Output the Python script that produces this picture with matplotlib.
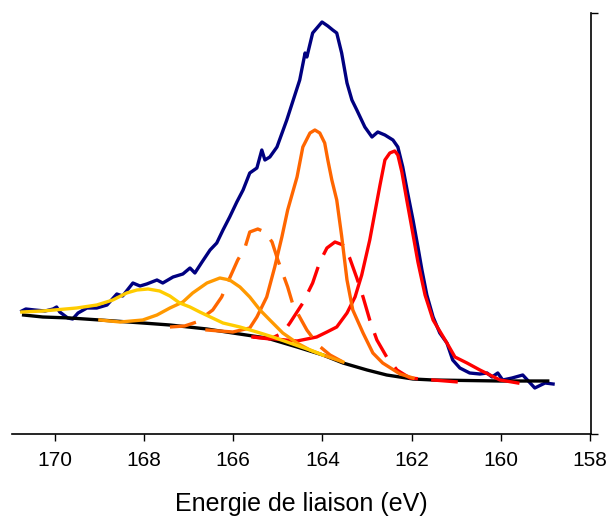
import matplotlib
matplotlib.use("Agg")
import matplotlib.pyplot as plt

plt.rcParams['font.family'] = ['Liberation Sans', 'DejaVu Sans']

# measured spectrum (binding energy in eV, intensity in a.u.)
raw_be = [170.74, 170.65, 170.45, 170.22, 170.04, 169.96, 169.89, 169.71, 169.60, 169.48,
          169.28, 169.06, 168.83, 168.61, 168.48, 168.25, 168.09, 167.94, 167.71, 167.58,
          167.35, 167.13, 166.97, 166.86, 166.70, 166.52, 166.37, 166.23, 166.08, 165.92,
          165.78, 165.63, 165.47, 165.36, 165.29, 165.18, 165.02, 164.80, 164.51, 164.39,
          164.35, 164.22, 164.01, 163.88, 163.77, 163.68, 163.57, 163.45, 163.34, 163.23,
          163.05, 162.89, 162.76, 162.60, 162.42, 162.31, 162.20, 162.09, 161.97, 161.86,
          161.77, 161.66, 161.52, 161.37, 161.21, 161.08, 160.92, 160.70, 160.47, 160.31,
          160.20, 160.07, 159.96, 159.75, 159.51, 159.24, 159.01, 158.83]
raw_int = [123, 125, 124, 123, 125, 127, 122, 116, 115, 121,
           126, 126, 129, 140, 138, 151, 148, 150, 154, 151,
           157, 160, 166, 161, 172, 184, 191, 204, 217, 232,
           244, 261, 266, 284, 274, 277, 287, 314, 354, 381,
           377, 401, 412, 408, 404, 401, 381, 351, 334, 324,
           307, 297, 302, 299, 294, 287, 267, 241, 214, 187,
           164, 139, 117, 101, 91, 74, 66, 61, 60, 61,
           57, 61, 54, 56, 59, 46, 51, 50]

# background
bg_be = [170.70, 170.27, 169.66, 168.99, 168.03, 167.42, 166.59, 166.01, 165.56, 165.25,
         164.57, 163.99, 163.54, 163.00, 162.56, 161.97, 161.52, 160.02, 158.95]
bg_int = [119, 117, 116, 114, 111, 109, 105, 101, 98, 96,
          87, 79, 71, 64, 59, 55, 54, 53, 53]

# fitted components
red_be = [165.56, 165.07, 164.57, 164.13, 163.90, 163.68, 163.45, 163.27, 163.12, 162.94,
          162.71, 162.60, 162.49, 162.38, 162.31, 162.22, 162.11, 162.00, 161.86, 161.70,
          161.52, 161.21, 161.03, 160.76, 160.47, 160.02, 159.62]
red_int = [97, 95, 93, 97, 102, 107, 121, 137, 159, 194,
           249, 274, 281, 283, 279, 262, 234, 207, 172, 139,
           114, 91, 77, 71, 64, 54, 51]

red2_be = [165.56, 165.18, 164.89, 164.73, 164.44, 164.22, 164.06, 163.90, 163.72, 163.54,
           163.39, 163.23, 163.09, 162.94, 162.78, 162.56, 162.33, 162.04, 161.52, 160.96]
red2_int = [97, 95, 101, 111, 131, 151, 172, 186, 192, 189,
            176, 156, 137, 114, 94, 77, 64, 56, 54, 52]

or_be = [166.59, 166.01, 165.63, 165.47, 165.25, 165.07, 164.91, 164.78, 164.57, 164.44,
         164.28, 164.17, 164.06, 163.95, 163.88, 163.79, 163.68, 163.57, 163.45, 163.32,
         163.09, 162.87, 162.65, 162.26, 161.97]
or_int = [104, 102, 106, 117, 137, 167, 197, 224, 257, 287,
          301, 304, 301, 291, 274, 254, 234, 198, 154, 124,
          101, 81, 71, 60, 56]

or2_be = [167.42, 167.09, 166.82, 166.46, 166.26, 166.08, 165.90, 165.74, 165.63, 165.45,
          165.29, 165.13, 165.00, 164.78, 164.66, 164.35, 164.10, 163.83, 163.54]
or2_int = [107, 108, 112, 124, 137, 156, 174, 186, 202, 205,
           202, 192, 174, 147, 129, 104, 89, 79, 72]

lo_be = [168.99, 168.54, 168.03, 167.71, 167.42, 167.13, 166.91, 166.59, 166.30, 166.08,
         165.85, 165.63, 165.40, 165.18, 164.89, 164.57, 164.28, 163.99, 163.54]
lo_int = [114, 112, 114, 119, 126, 132, 141, 151, 156, 154,
          147, 137, 124, 114, 101, 91, 84, 79, 72]

gold_be = [170.74, 170.27, 169.51, 169.06, 168.70, 168.39, 168.16, 167.91, 167.65, 167.42,
           167.20, 166.97, 166.75, 166.23, 165.85, 165.47, 165.11, 164.73, 164.28, 163.99]
gold_int = [122, 123, 126, 129, 134, 141, 144, 145, 143, 138,
            131, 127, 122, 111, 107, 102, 97, 91, 84, 79]

x_ticks = [170, 168, 166, 164, 162, 160, 158]

fig = plt.figure(figsize=(6.1, 5.17), dpi=100)
ax = fig.add_axes([12 / 610, 83 / 517, 579 / 610, 421 / 517])

lw = 2.4
dash = (8, 4)
ax.plot(raw_be, raw_int, color='#000080', lw=lw)
ax.plot(bg_be, bg_int, color='black', lw=lw)
ax.plot(red_be, red_int, color='#FF0000', lw=lw)
ax.plot(red2_be, red2_int, color='#FF0000', lw=lw, dashes=dash)
ax.plot(or_be, or_int, color='#FF6600', lw=lw)
ax.plot(or2_be, or2_int, color='#FF6600', lw=lw, dashes=dash)
ax.plot(lo_be, lo_int, color='#FF9900', lw=lw)
ax.plot(gold_be, gold_int, color='#FFCC00', lw=lw)

ax.set_xlim(170.96, 157.98)
ax.set_ylim(0, 421)

ax.spines['left'].set_visible(False)
ax.spines['top'].set_visible(False)
ax.spines['right'].set_linewidth(1.2)
ax.spines['bottom'].set_linewidth(1.2)

ax.set_xticks(x_ticks)
ax.set_xticklabels([str(t) for t in x_ticks])
ax.tick_params(axis='x', direction='out', length=5, width=1, labelsize=15, pad=7)

ax.yaxis.tick_right()
ax.set_yticks([0, 421])
ax.set_yticklabels([])
ax.tick_params(axis='y', direction='out', length=5, width=1)

ax.set_xlabel('Energie de liaison (eV)', fontsize=18, labelpad=16)

fig.savefig('out.png', dpi=100)
